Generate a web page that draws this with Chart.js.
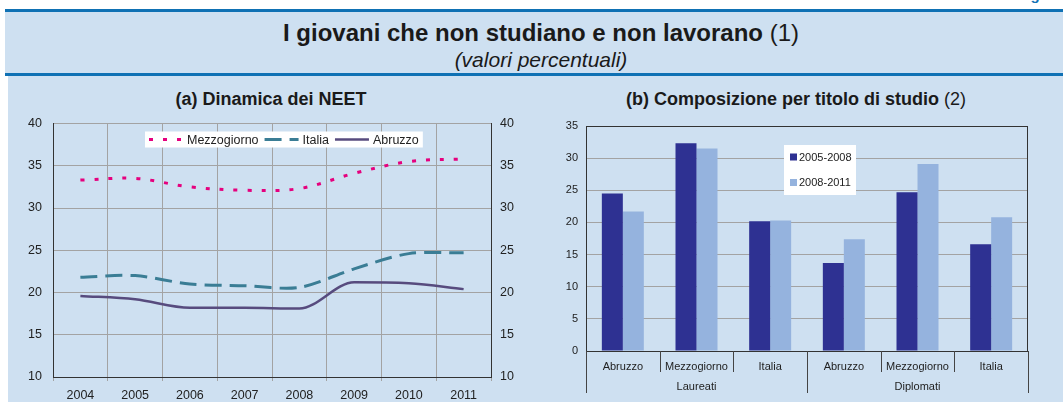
<!DOCTYPE html>
<html>
<head>
<meta charset="utf-8">
<script src="https://cdn.jsdelivr.net/npm/chart.js@4.4.1/dist/chart.umd.min.js"></script>
<style>
  body { margin:0; background:#fff; width:1063px; height:402px; overflow:hidden; position:relative; font-family:"Liberation Sans", Arial, sans-serif; color:#1a1a1a; }
  #fig { position:absolute; right:0px; top:-14px; font-size:15px; font-weight:bold; color:#1273b6; }
  #band { position:absolute; left:5px; top:9px; width:1058px; height:61px; background:#cee0f1; border-top:3px solid #0f71b4; border-bottom:3px solid #0f71b4; }
  #titolo { position:absolute; left:14px; width:1044px; top:7px; text-align:center; font-size:24px; font-weight:bold; }
  #titolo span { font-weight:normal; }
  #sotto { position:absolute; left:14px; width:1044px; top:36px; text-align:center; font-size:21px; font-style:italic; }
  #panel { position:absolute; left:8px; top:76px; right:0; bottom:0; background:#cee0f1; }
  .ptit { position:absolute; top:89px; width:400px; font-size:18px; font-weight:bold; text-align:center; }
  .ptit span { font-weight:normal; }
  #wrapA { position:absolute; left:0; top:105px; width:530px; height:297px; }
  #wrapB { position:absolute; left:530px; top:110px; width:533px; height:292px; }
</style>
</head>
<body>
<div id="fig">Figura</div>
<div id="band">
  <div id="titolo">I giovani che non studiano e non lavorano <span>(1)</span></div>
  <div id="sotto">(valori percentuali)</div>
</div>
<div id="panel"></div>
<div class="ptit" style="left:71px">(a) Dinamica dei NEET</div>
<div class="ptit" style="left:596px">(b) Composizione per titolo di studio <span>(2)</span></div>
<div id="wrapA"><canvas id="graficoA"></canvas></div>
<div id="wrapB"><canvas id="graficoB"></canvas></div>

<script>
// (a) dinamica dei NEET
const anni = ['2004', '2005', '2006', '2007', '2008', '2009', '2010', '2011'];
const mezzogiorno = [33.3, 33.5, 32.5, 32.1, 32.3, 34.1, 35.5, 35.8];
const italia = [21.8, 22.0, 21.0, 20.8, 20.6, 22.8, 24.6, 24.7];
const abruzzo = [19.6, 19.2, 18.2, 18.2, 18.1, 21.2, 21.1, 20.4];
const asseA = [10, 40, 5];   // min, max, passo

// (b) composizione per titolo di studio
const titoli = ['Abruzzo', 'Mezzogiorno', 'Italia', 'Abruzzo', 'Mezzogiorno', 'Italia'];
const gruppi = ['Laureati', 'Diplomati'];
const perGruppo = 3;
const periodo0508 = [24.5, 32.3, 20.2, 13.7, 24.7, 16.6];
const periodo0811 = [21.7, 31.5, 20.3, 17.4, 29.1, 20.8];
const asseB = [0, 35, 5];

const FONT = '"Liberation Sans", Arial, sans-serif';
const GRIGIO = '#a3a3a3';
const TESTO = '#222';

// legenda dentro l'area del grafico (a)
const legendaA = {
  id: 'legendaA',
  afterDraw(chart) {
    const ctx = chart.ctx, a = chart.chartArea;
    ctx.save();
    ctx.font = '12.5px ' + FONT;
    let x = a.left + 96;
    const y = a.top + 16;
    const items = chart.data.datasets.map(ds => ({ ds, w: ctx.measureText(ds.label).width }));
    const tot = items.reduce((s, it) => s + 34 + 4 + it.w + 6, 0);
    ctx.fillStyle = '#fff';
    ctx.fillRect(x - 4, y - 8, tot + 2, 16);
    items.forEach(it => {
      ctx.strokeStyle = it.ds.borderColor;
      ctx.lineWidth = it.ds.borderWidth;
      ctx.setLineDash(it.ds.borderDash || []);
      ctx.beginPath();
      ctx.moveTo(x, y);
      ctx.lineTo(x + 34, y);
      ctx.stroke();
      ctx.setLineDash([]);
      ctx.fillStyle = TESTO;
      ctx.textBaseline = 'middle';
      ctx.fillText(it.ds.label, x + 38, y + 1);
      x += 34 + 4 + it.w + 6;
    });
    ctx.restore();
  }
};

// legenda, separatori e gruppi dell'asse x per il grafico (b)
const extraB = {
  id: 'extraB',
  afterDraw(chart) {
    const ctx = chart.ctx, a = chart.chartArea, sx = chart.scales.x;
    const n = chart.data.labels.length;
    ctx.save();
    // cornice
    ctx.strokeStyle = '#333';
    ctx.lineWidth = 1;
    ctx.strokeRect(Math.round(a.left) + 0.5, Math.round(a.top) + 0.5, Math.round(a.width) - 1, Math.round(a.height));
    // separatori
    const bordi = [];
    for (let i = 0; i <= n; i++) {
      if (i === 0) bordi.push(a.left);
      else if (i === n) bordi.push(a.right);
      else bordi.push((sx.getPixelForTick(i - 1) + sx.getPixelForTick(i)) / 2);
    }
    ctx.strokeStyle = '#444';
    bordi.forEach((bx, i) => {
      const lungo = i % perGruppo === 0;
      const px = Math.round(bx) + 0.5;
      ctx.beginPath();
      ctx.moveTo(px, a.bottom);
      ctx.lineTo(px, a.bottom + (lungo ? 42 : 21));
      ctx.stroke();
    });
    ctx.fillStyle = TESTO;
    ctx.font = '11px ' + FONT;
    ctx.textAlign = 'center';
    ctx.textBaseline = 'middle';
    gruppi.forEach((g, k) => {
      const cx = (bordi[k * perGruppo] + bordi[(k + 1) * perGruppo]) / 2;
      ctx.fillText(g, cx, a.bottom + 36);
    });
    // legenda
    const lx = a.left + 198, ly = a.top + 31;
    ctx.fillStyle = '#fff';
    ctx.fillRect(lx, ly - 12, 72, 50);
    ctx.textAlign = 'left';
    chart.data.datasets.forEach((ds, i) => {
      const yy = ly + i * 25.5;
      ctx.fillStyle = ds.backgroundColor;
      ctx.fillRect(lx + 6, yy - 3.5, 7, 7);
      ctx.fillStyle = TESTO;
      ctx.fillText(ds.label, lx + 15, yy + 0.5);
    });
    ctx.restore();
  }
};

new Chart(document.getElementById('graficoA'), {
  type: 'line',
  data: {
    labels: anni,
    datasets: [
      { label: 'Mezzogiorno', data: mezzogiorno, borderColor: '#e5007e', borderWidth: 3, borderDash: [4, 10], tension: 0.35, pointRadius: 0 },
      { label: 'Italia', data: italia, borderColor: '#3a7d95', borderWidth: 3, borderDash: [17, 8], tension: 0.3, pointRadius: 0 },
      { label: 'Abruzzo', data: abruzzo, borderColor: '#574b7e', borderWidth: 2.5, cubicInterpolationMode: 'monotone', pointRadius: 0 }
    ]
  },
  options: {
    responsive: true,
    maintainAspectRatio: false,
    animation: false,
    layout: { padding: { top: 12, left: 0, right: 0, bottom: 0 } },
    plugins: { legend: { display: false }, tooltip: { enabled: false } },
    scales: {
      x: {
        offset: true,
        grid: { offset: true, color: GRIGIO, tickLength: 4 },
        border: { color: '#333' },
        ticks: { font: { size: 12.5, family: FONT }, color: TESTO, padding: 7, maxRotation: 0 },
        afterFit(s) { s.height = 25; }
      },
      y: {
        min: asseA[0], max: asseA[1],
        ticks: { stepSize: asseA[2], font: { size: 12.5, family: FONT }, color: TESTO, padding: 11 },
        grid: { color: GRIGIO, drawTicks: false },
        border: { color: '#333' },
        afterFit(s) { s.width = 53; }
      },
      y2: {
        position: 'right',
        min: asseA[0], max: asseA[1],
        ticks: { stepSize: asseA[2], font: { size: 12.5, family: FONT }, color: TESTO, padding: 9 },
        grid: { drawOnChartArea: false, drawTicks: false },
        border: { color: '#333' },
        afterFit(s) { s.width = 39; }
      }
    }
  },
  plugins: [legendaA]
});

new Chart(document.getElementById('graficoB'), {
  type: 'bar',
  data: {
    labels: titoli,
    datasets: [
      { label: '2005-2008', data: periodo0508, backgroundColor: '#2e3192' },
      { label: '2008-2011', data: periodo0811, backgroundColor: '#95b3de' }
    ]
  },
  options: {
    responsive: true,
    maintainAspectRatio: false,
    animation: false,
    layout: { padding: { top: 16, right: 35, left: 0, bottom: 0 } },
    plugins: { legend: { display: false }, tooltip: { enabled: false } },
    datasets: { bar: { categoryPercentage: 0.57, barPercentage: 1 } },
    scales: {
      x: {
        grid: { display: false, drawTicks: false },
        border: { color: '#333' },
        ticks: { font: { size: 11, family: FONT }, color: TESTO, padding: 9, maxRotation: 0 },
        afterFit(s) { s.height = 51; }
      },
      y: {
        min: asseB[0], max: asseB[1],
        ticks: { stepSize: asseB[2], font: { size: 11, family: FONT }, color: TESTO, padding: 8 },
        grid: { color: GRIGIO, drawTicks: false },
        border: { color: '#333' },
        afterFit(s) { s.width = 56; }
      }
    }
  },
  plugins: [extraB]
});
</script>
</body>
</html>
